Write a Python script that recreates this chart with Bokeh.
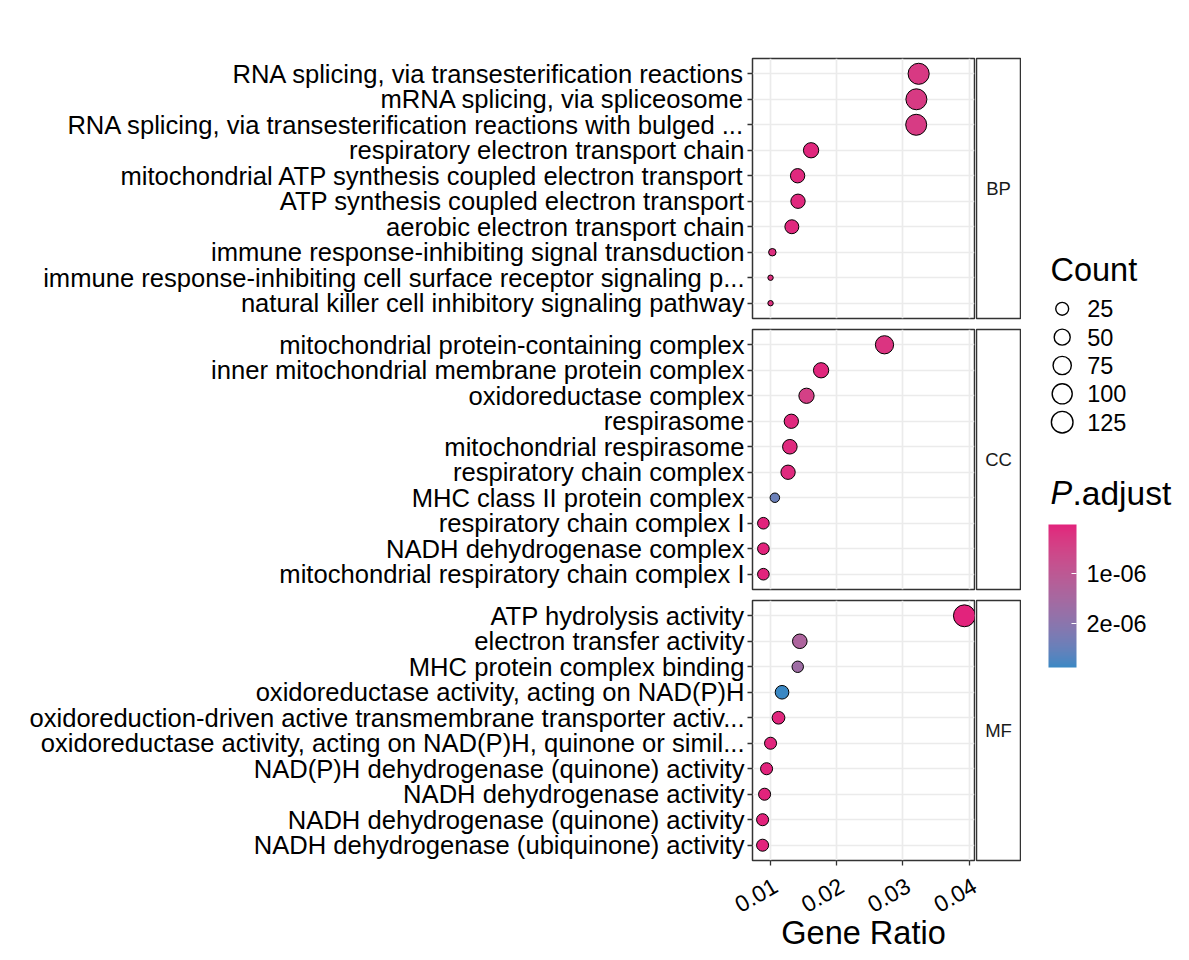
import math
from bokeh.plotting import figure
from bokeh.models import (ColumnDataSource, Range1d, FixedTicker, Grid,
                          LinearColorMapper, ColorBar, AllLabels)
from bokeh.layouts import row, column
from bokeh.transform import linear_cmap
from bokeh.core.properties import value
from bokeh.embed import file_html
from bokeh.resources import INLINE

# ---------------- data ----------------
facets = ["BP", "CC", "MF"]

bp_terms = [
    "RNA splicing, via transesterification reactions",
    "mRNA splicing, via spliceosome",
    "RNA splicing, via transesterification reactions with bulged ...",
    "respiratory electron transport chain",
    "mitochondrial ATP synthesis coupled electron transport",
    "ATP synthesis coupled electron transport",
    "aerobic electron transport chain",
    "immune response-inhibiting signal transduction",
    "immune response-inhibiting cell surface receptor signaling p...",
    "natural killer cell inhibitory signaling pathway",
]
bp_ratio = [0.03236, 0.03202, 0.03199, 0.01614, 0.01411, 0.01417, 0.01324, 0.01030, 0.01003, 0.01003]
bp_count = [117, 115, 115, 43, 35, 35, 32, 6, 5, 5]
bp_padj = [3.0e-7, 3.2e-7, 3.3e-7, 6e-8, 8e-8, 8e-8, 9e-8, 1.5e-7, 1.6e-7, 1.6e-7]

cc_terms = [
    "mitochondrial protein-containing complex",
    "inner mitochondrial membrane protein complex",
    "oxidoreductase complex",
    "respirasome",
    "mitochondrial respirasome",
    "respiratory chain complex",
    "MHC class II protein complex",
    "respiratory chain complex I",
    "NADH dehydrogenase complex",
    "mitochondrial respiratory chain complex I",
]
cc_ratio = [0.02721, 0.01765, 0.01545, 0.01316, 0.01294, 0.01267, 0.01068, 0.00895, 0.00895, 0.00895]
cc_count = [75, 43, 43, 35, 37, 35, 10, 18, 18, 18]
cc_padj = [2.2e-7, 6e-8, 4.2e-7, 9e-8, 1.0e-7, 1.0e-7, 2.45e-6, 1.2e-8, 1.2e-8, 1.2e-8]

mf_terms = [
    "ATP hydrolysis activity",
    "electron transfer activity",
    "MHC protein complex binding",
    "oxidoreductase activity, acting on NAD(P)H",
    "oxidoreduction-driven active transmembrane transporter activ...",
    "oxidoreductase activity, acting on NAD(P)H, quinone or simil...",
    "NAD(P)H dehydrogenase (quinone) activity",
    "NADH dehydrogenase activity",
    "NADH dehydrogenase (quinone) activity",
    "NADH dehydrogenase (ubiquinone) activity",
]
mf_ratio = [0.03926, 0.01444, 0.01413, 0.01176, 0.01123, 0.01003, 0.00943, 0.00913, 0.00883, 0.00883]
mf_count = [130, 37, 17, 30, 24, 20, 20, 20, 20, 20]
mf_padj = [2e-8, 1.35e-6, 1.65e-6, 2.88e-6, 5e-8, 5e-8, 2e-8, 2e-8, 2e-8, 2e-8]

x_ticks = [0.01, 0.02, 0.03, 0.04]
x_tick_labels = ["0.01", "0.02", "0.03", "0.04"]
count_breaks = [25, 50, 75, 100, 125]
padj_breaks = [1e-6, 2e-6]
padj_break_labels = ["1e-06", "2e-06"]

LOW_COLOR = "#E2237C"   # small p.adjust
HIGH_COLOR = "#3A88C4"  # large p.adjust
FONT = "Liberation Sans"

# ---------------- helpers ----------------
def _to_lab(h):
    r, g, b = [int(h[i:i + 2], 16) / 255 for i in (1, 3, 5)]
    def lin(c):
        return c / 12.92 if c <= 0.04045 else ((c + 0.055) / 1.055) ** 2.4
    r, g, b = lin(r), lin(g), lin(b)
    X = (0.4124 * r + 0.3576 * g + 0.1805 * b) / 0.95047
    Y = (0.2126 * r + 0.7152 * g + 0.0722 * b)
    Z = (0.0193 * r + 0.1192 * g + 0.9505 * b) / 1.08883
    def f(t):
        return t ** (1 / 3) if t > 0.008856 else 7.787 * t + 16 / 116
    fx, fy, fz = f(X), f(Y), f(Z)
    return (116 * fy - 16, 500 * (fx - fy), 200 * (fy - fz))

def _from_lab(L, a, b):
    fy = (L + 16) / 116
    fx = fy + a / 500
    fz = fy - b / 200
    def finv(t):
        return t ** 3 if t ** 3 > 0.008856 else (t - 16 / 116) / 7.787
    X, Y, Z = finv(fx) * 0.95047, finv(fy), finv(fz) * 1.08883
    r = 3.2406 * X - 1.5372 * Y - 0.4986 * Z
    g = -0.9689 * X + 1.8758 * Y + 0.0415 * Z
    bb = 0.0557 * X - 0.2040 * Y + 1.0570 * Z
    def gam(c):
        c = c * 12.92 if c <= 0.0031308 else 1.055 * c ** (1 / 2.4) - 0.055
        return max(0, min(255, round(c * 255)))
    return "#%02x%02x%02x" % (gam(r), gam(g), gam(bb))

def lab_ramp(c0, c1, n=256):
    l0, l1 = _to_lab(c0), _to_lab(c1)
    return [_from_lab(*[l0[k] + (l1[k] - l0[k]) * i / (n - 1) for k in range(3)]) for i in range(n)]

PAL = lab_ramp(LOW_COLOR, HIGH_COLOR)

all_counts = bp_count + cc_count + mf_count
CMIN, CMAX = min(all_counts), max(all_counts)
def diam(c):
    return 6.0 + 16.5 * ((c - CMIN) / (CMAX - CMIN)) ** 0.43

all_padj = bp_padj + cc_padj + mf_padj
PMIN, PMAX = min(all_padj), max(all_padj)

all_ratio = bp_ratio + cc_ratio + mf_ratio
rmin, rmax = min(all_ratio), max(all_ratio)
pad = 0.05 * (rmax - rmin)
xr = Range1d(rmin - pad, rmax + pad)

GRID = "#EBEBEB"
BORDER = "#333333"
FRAME_W = 222

def panel(terms, ratio, count, padj, top, bottom, show_x):
    n = len(terms)
    ys = [n - i for i in range(n)]
    src = ColumnDataSource(dict(x=ratio, y=ys, size=[diam(c) - 0.6 for c in count],
                                padj=padj, term=terms, count=count))
    yr = Range1d(0.4, n + 0.6)
    p = figure(frame_width=FRAME_W, frame_height=260, x_range=xr,
               y_range=yr, output_backend="svg",
               toolbar_location=None,
               x_axis_location="below" if show_x else None,
               min_border_left=752, min_border_right=1,
               min_border_top=top, min_border_bottom=bottom)
    p.grid.visible = False
    p.add_layout(Grid(dimension=0, ticker=FixedTicker(ticks=x_ticks),
                      grid_line_color=GRID, grid_line_width=1.7))
    p.add_layout(Grid(dimension=1, ticker=FixedTicker(ticks=ys),
                      grid_line_color=GRID, grid_line_width=1.7))
    p.scatter("x", "y", size="size", source=src,
              fill_color=linear_cmap("padj", PAL, PMIN, PMAX),
              line_color="black", line_width=1)
    p.outline_line_color = BORDER
    p.outline_line_width = 1.5
    p.background_fill_color = "white"
    p.border_fill_color = "white"
    ya = p.yaxis[0]
    ya.ticker = FixedTicker(ticks=ys)
    ya.major_label_overrides = {y: t for y, t in zip(ys, terms)}
    ya.axis_line_color = None
    ya.minor_tick_line_color = None
    ya.major_tick_out = 5
    ya.major_tick_in = 0
    ya.major_tick_line_color = BORDER
    ya.major_tick_line_width = 1.3
    ya.major_label_standoff = 3
    ya.major_label_text_font = FONT
    ya.major_label_text_font_size = "25.6px"
    ya.major_label_text_color = "black"
    if show_x:
        xa = p.xaxis[0]
        xa.ticker = FixedTicker(ticks=x_ticks)
        xa.axis_line_color = None
        xa.minor_tick_line_color = None
        xa.major_tick_out = 5
        xa.major_tick_in = 0
        xa.major_tick_line_color = BORDER
        xa.major_tick_line_width = 1.3
        xa.major_label_standoff = 0
        xa.major_label_overrides = {t: "" for t in x_ticks}
        xa.major_label_text_font_size = "0px"
    return p

def strip(label, top, bottom):
    s = figure(frame_width=44, frame_height=260, x_range=Range1d(0, 1), y_range=Range1d(0, 1),
               x_axis_location=None, y_axis_location=None, output_backend="svg",
               toolbar_location=None, min_border_left=1, min_border_right=1,
               min_border_top=top, min_border_bottom=bottom)
    s.grid.visible = False
    s.outline_line_color = BORDER
    s.outline_line_width = 1.5
    s.text(x=[0.5], y=[0.5], text=[label], text_align="center", text_baseline="middle",
           text_font=value(FONT), text_font_size="18.5px", text_color="#1A1A1A")
    return s

p1 = panel(bp_terms, bp_ratio, bp_count, bp_padj, 58, 5, False)
s1 = strip(facets[0], 58, 5)
p2 = panel(cc_terms, cc_ratio, cc_count, cc_padj, 6, 5, False)
s2 = strip(facets[1], 6, 5)
p3 = panel(mf_terms, mf_ratio, mf_count, mf_padj, 6, 8, True)
s3 = strip(facets[2], 6, 8)

# ---- x tick labels + axis title (same x scale as the panels, wider frame) ----
ppu = FRAME_W / (xr.end - xr.start)
EXT_L, EXT_R = 52, 47
xr_lab = Range1d(xr.start - EXT_L / ppu, xr.end + EXT_R / ppu)
LABH = 88
lab = figure(frame_width=FRAME_W + EXT_L + EXT_R, frame_height=LABH, x_range=xr_lab,
             y_range=Range1d(0, LABH), x_axis_location=None, y_axis_location=None,
             output_backend="svg", toolbar_location=None,
             min_border_left=752 - EXT_L, min_border_right=0,
             min_border_top=0, min_border_bottom=0)
lab.grid.visible = False
lab.outline_line_color = None
lab.text(x=x_ticks, y=[LABH - 15] * len(x_ticks), text=x_tick_labels, angle=math.pi / 6,
         text_align="right", text_baseline="middle", x_offset=5,
         text_font=value(FONT), text_font_size="23px", text_color="black")
lab.text(x=[(xr.start + xr.end) / 2], y=[LABH - 64], text=["Gene Ratio"],
         text_align="center", text_baseline="middle",
         text_font=value(FONT), text_font_size="32.5px", text_color="black")

# ---------------- legends ----------------
LH = 960
leg = figure(width=168, height=LH, x_range=Range1d(0, 168), y_range=Range1d(LH, 0),
             x_axis_location=None, y_axis_location=None, output_backend="svg",
             toolbar_location=None, min_border_left=0, min_border_right=0,
             min_border_top=0, min_border_bottom=0)
leg.grid.visible = False
leg.outline_line_color = None

leg.text(x=[29], y=[269], text=["Count"], text_font=value(FONT), text_font_size="32.5px",
         text_color="black", text_baseline="middle")
cy = [308.3 + 28.35 * i for i in range(len(count_breaks))]
leg.scatter(x=[40.7] * len(count_breaks), y=cy, size=[diam(b) - 0.6 for b in count_breaks],
            fill_color=None, line_color="black", line_width=1.4)
leg.text(x=[65.7] * len(count_breaks), y=cy, text=[str(b) for b in count_breaks],
         text_font=value(FONT), text_font_size="23.5px", text_color="black",
         text_baseline="middle")

leg.text(x=[29], y=[492.5], text=["P"], text_font=value(FONT), text_font_size="32.5px",
         text_font_style="italic", text_color="black", text_baseline="middle")
leg.text(x=[51], y=[492.5], text=[".adjust"], text_font=value(FONT), text_font_size="33.5px",
         text_color="black", text_baseline="middle")

SCALE = 1e6
cb_mapper = LinearColorMapper(palette=PAL[::-1], low=-PMAX * SCALE, high=-PMIN * SCALE)
cb_ticks = sorted(-round(b * SCALE) for b in padj_breaks)
cb_labels = {-round(b * SCALE): l for b, l in zip(padj_breaks, padj_break_labels)}
cb = ColorBar(color_mapper=cb_mapper, ticker=FixedTicker(ticks=cb_ticks),
              major_label_overrides=cb_labels, major_label_policy=AllLabels(),
              width=28, height=143, location=(27, LH - 667), padding=0,
              orientation="vertical", major_tick_in=5, major_tick_out=0,
              major_tick_line_color="white", major_tick_line_width=1.2,
              minor_tick_line_color=None, label_standoff=10,
              major_label_text_font=FONT, major_label_text_font_size="23.5px",
              major_label_text_color="black", bar_line_color=None,
              border_line_color=None, background_fill_color=None)
leg.add_layout(cb)

layout = row(column(row(p1, s1), row(p2, s2), row(p3, s3), lab), leg)
open("out.html", "w").write(file_html(layout, INLINE, title="GO dotplot"))
